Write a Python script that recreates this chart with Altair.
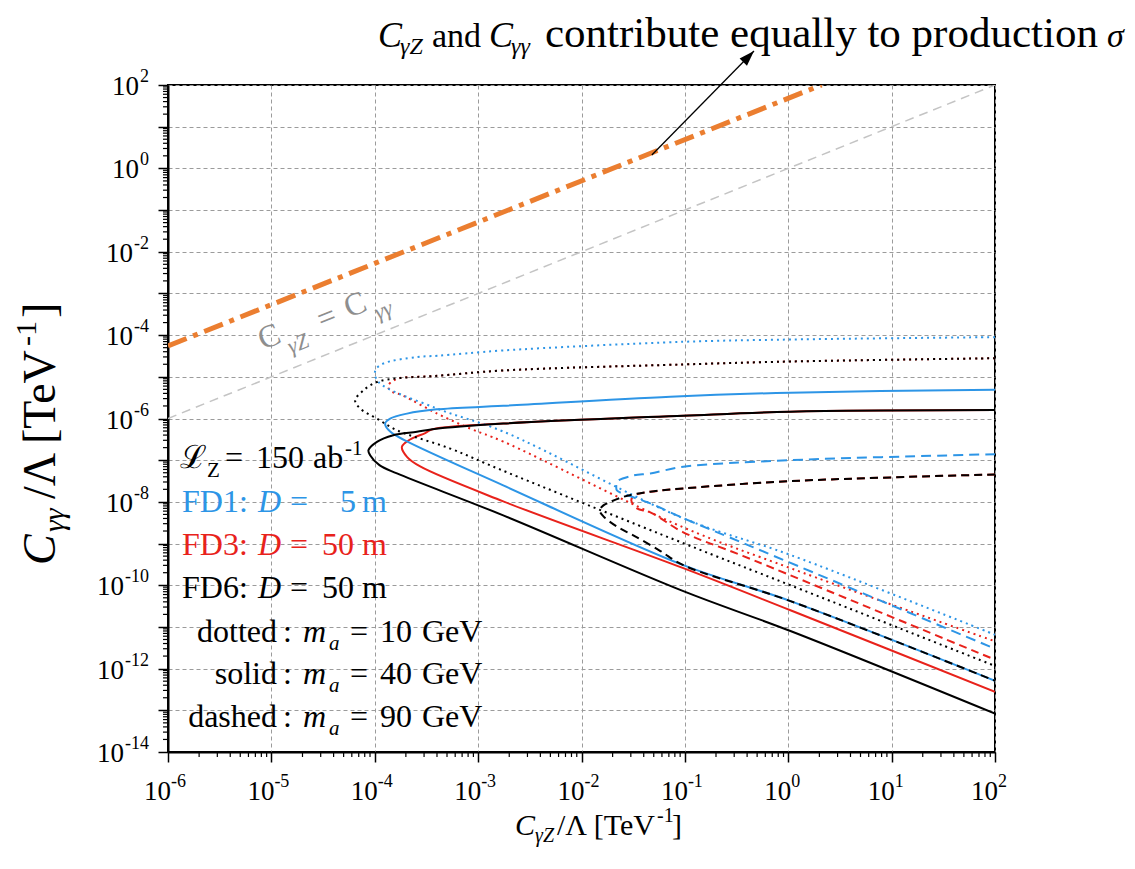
import altair as alt
import pandas as pd

W, H = 827, 667          # plot area
OX, OY = 168, 85         # plot origin on the page
FONT = "Liberation Serif"
BLUE, RED, BLACK, ORANGE, GRAY = "#2D95E6", "#E8221B", "#000000", "#EB7E30", "#C4C4C4"

XDOM = [1e-6, 1e2]
YDOM = [1e-14, 1e2]
X_EXP = [-6, -5, -4, -3, -2, -1, 0, 1, 2]
Y_EXP = list(range(-14, 3))

# ---------------- data ----------------
# FD6 (black)
fd6_solid_x = [100, 1.05, 0.0966, 1.75e-3, 3.62e-4, 2.56e-4, 1.51e-4, 1.05e-4, 8.69e-5, 9.02e-5, 1.11e-4, 1.64e-4, 1.75e-3, 0.0966, 1.05, 100]
fd6_solid_y = [1.59e-6, 1.46e-6, 1.17e-6, 7.55e-7, 5.52e-7, 4.79e-7, 3.96e-7, 2.75e-7, 1.73e-7, 1.32e-7, 7.59e-8, 4.81e-8, 4.75e-9, 7.23e-11, 7.98e-12, 8.32e-14]
fd6_dot_x = [100, 1.05, 0.0966, 1.75e-3, 3.67e-4, 1.76e-4, 1.05e-4, 7.78e-5, 6.46e-5, 7.23e-5, 1.05e-4, 1.64e-4, 5.37e-4, 1.62e-3, 0.0966, 1.05, 100]
fd6_dot_y = [2.79e-5, 2.33e-5, 1.98e-5, 1.42e-5, 1.04e-5, 9.35e-6, 7.52e-6, 4.73e-6, 2.72e-6, 1.73e-6, 9.95e-7, 5.22e-7, 1.9e-7, 6.03e-8, 1.02e-9, 1.0e-10, 1.16e-12]
fd6_dash_x = [100, 1.05, 0.0966, 0.0463, 0.0256, 0.0177, 0.0163, 0.015, 0.0164, 0.022, 0.0317, 0.058, 0.0966, 1.05, 100]
fd6_dash_y = [4.55e-8, 3.15e-8, 2.1e-8, 1.75e-8, 1.33e-8, 9.2e-9, 8.24e-9, 6.27e-9, 4.43e-9, 2.55e-9, 1.58e-9, 6.61e-10, 3.03e-10, 4.17e-11, 5.13e-13]
# FD1 (blue)
fd1_solid_x = [100, 1.05, 0.0724, 1.75e-3, 3.99e-4, 2.05e-4, 1.41e-4, 1.26e-4, 1.41e-4, 2.05e-4, 1.75e-3, 0.0966, 1.05, 100]
fd1_solid_y = [4.91e-6, 4.17e-6, 3.34e-6, 2.01e-6, 1.66e-6, 1.31e-6, 9.95e-7, 7.55e-7, 4.86e-7, 2.82e-7, 2.48e-8, 3.03e-10, 4.17e-11, 5.13e-13]
fd1_dot_x = [100, 1.05, 0.0966, 1.75e-3, 4.02e-4, 2.56e-4, 1.2e-4, 1.01e-4, 1.08e-4, 4.02e-4, 1.75e-3, 0.0966, 1.05, 100]
fd1_dot_y = [8.95e-5, 7.85e-5, 6.92e-5, 4.29e-5, 3.2e-5, 2.98e-5, 2.06e-5, 1.4e-5, 7.64e-6, 1.73e-6, 4.86e-7, 4.04e-9, 5.33e-10, 6.5e-12]
fd1_dash_x = [100, 1.05, 0.0966, 0.0463, 0.0317, 0.022, 0.0217, 0.022, 0.0275, 0.0463, 0.0966, 0.43, 100]
fd1_dash_y = [1.39e-7, 1.0e-7, 6.95e-8, 4.81e-8, 4.31e-8, 3.04e-8, 2.35e-8, 1.88e-8, 1.46e-8, 9.2e-9, 4.07e-9, 8.71e-10, 3.0e-12]
# FD3 (red)
fd3_solid_x = [100, 1.05, 0.0966, 1.75e-3, 3.62e-4, 3.08e-4, 2.2e-4, 1.83e-4, 2.05e-4, 2.75e-4, 1.75e-3, 0.0966, 1.05, 100]
fd3_solid_y = [1.59e-6, 1.46e-6, 1.17e-6, 7.55e-7, 5.52e-7, 4.48e-7, 3.13e-7, 2.09e-7, 1.2e-7, 7.06e-8, 1.03e-8, 2.57e-10, 2.51e-11, 2.77e-13]
fd3_dot_x = [100, 1.05, 0.0966, 1.75e-3, 3.67e-4, 1.76e-4, 1.51e-4, 1.35e-4, 1.41e-4, 1.88e-4, 4.02e-4, 8.38e-4, 1.75e-3, 0.0966, 1.05, 100]
fd3_dot_y = [2.79e-5, 2.33e-5, 1.98e-5, 1.42e-5, 1.04e-5, 9.35e-6, 8.07e-6, 6.12e-6, 4.65e-6, 3.53e-6, 1.31e-6, 5.73e-7, 2.8e-7, 2.45e-9, 2.57e-10, 4.52e-12]
fd3_dash_x = [100, 1.05, 0.0966, 0.0463, 0.0371, 0.0324, 0.0303, 0.0344, 0.0463, 0.0966, 0.368, 100]
fd3_dash_y = [4.55e-8, 3.15e-8, 2.1e-8, 1.75e-8, 1.6e-8, 1.43e-8, 1.09e-8, 7.0e-9, 5.62e-9, 1.86e-9, 5.01e-10, 1.64e-12]
# reference lines
equal_x = [1e-6, 1e2]          # C_gZ = C_gg
equal_y = [1e-6, 1e2]
sigma_x = [1e-6, 2.1]          # equal contribution to production
sigma_y = [5.5e-5, 100]
arrow_x = [0.0479, 0.466]
arrow_y = [2.1, 653]

# ---------------- scales / axes ----------------
xs = alt.Scale(type="log", domain=XDOM, nice=False)
ys = alt.Scale(type="log", domain=YDOM, nice=False)
common_axis = dict(labels=False, title=None, tickSize=10, tickWidth=1.5, tickColor="black",
                   domainColor="black", domainWidth=2, grid=True, gridColor="#9b9b9b",
                   gridDash=[4, 3], gridWidth=1)
xaxis = alt.Axis(values=[10.0 ** e for e in X_EXP], **common_axis)
yaxis = alt.Axis(values=[10.0 ** e for e in Y_EXP], **common_axis)


def X(field):
    return alt.X(field, scale=xs, axis=xaxis)


def Y(field):
    return alt.Y(field, scale=ys, axis=yaxis)


def curve(xv, yv, color, dash=None, width=2.0, interp="catmull-rom", clip=True):
    df = pd.DataFrame({"x": xv, "y": yv, "o": list(range(len(xv)))})
    kw = dict(color=color, strokeWidth=width, clip=clip, interpolate=interp)
    if dash:
        kw["strokeDash"] = dash
    return alt.Chart(df).mark_line(**kw).encode(x=X("x:Q"), y=Y("y:Q"), order="o:Q")


def txt(s, x, y, size, color="black", italic=False, angle=0, align="left", font=FONT):
    kw = dict(align=align, baseline="alphabetic", font=font, fontSize=size, color=color)
    if italic:
        kw["fontStyle"] = "italic"
    if angle:
        kw["angle"] = angle
    return alt.Chart(pd.DataFrame({"t": [s]})).mark_text(**kw).encode(
        x=alt.value(x - OX), y=alt.value(y - OY), text="t:N")


DOT, DASH = [2, 4], [8, 5]
layers = []
layers.append(curve(equal_x, equal_y, GRAY, [9, 6], 1.5, "linear"))
layers.append(curve(sigma_x, sigma_y, ORANGE, [20, 7, 5, 7], 5, "linear"))
# red, blue, black (black on top)
layers += [curve(fd3_dot_x, fd3_dot_y, RED, DOT), curve(fd3_solid_x, fd3_solid_y, RED),
           curve(fd3_dash_x, fd3_dash_y, RED, DASH)]
layers += [curve(fd1_dot_x, fd1_dot_y, BLUE, DOT), curve(fd1_solid_x, fd1_solid_y, BLUE),
           curve(fd1_dash_x, fd1_dash_y, BLUE, [10, 6])]
layers += [curve(fd6_dot_x, fd6_dot_y, BLACK, DOT), curve(fd6_solid_x, fd6_solid_y, BLACK),
           curve(fd6_dash_x, fd6_dash_y, BLACK, DASH)]

# arrow
layers.append(curve(arrow_x, arrow_y, BLACK, None, 1.3, "linear", clip=False))
layers.append(alt.Chart(pd.DataFrame({"x": [arrow_x[1]], "y": [arrow_y[1]]})).mark_point(
    shape="M0,0L-0.5,1.5L0.5,1.5Z", filled=True, color="black", opacity=1, size=420, angle=44
).encode(x=X("x:Q"), y=Y("y:Q")))

# minor ticks
xminor = [m * 10.0 ** d for d in range(-6, 2) for m in range(2, 10)]
yminor = [m * 10.0 ** d for d in range(-14, 2) for m in range(2, 10)]
layers.append(alt.Chart(pd.DataFrame({"v": xminor})).mark_rule(color="black", strokeWidth=1.2).encode(
    x=X("v:Q"), y=alt.value(H), y2=alt.value(H + 5)))
layers.append(alt.Chart(pd.DataFrame({"v": yminor})).mark_rule(color="black", strokeWidth=1.2).encode(
    y=Y("v:Q"), x=alt.value(0), x2=alt.value(-5)))

# tick labels: "10" + raised exponent
LS, ES = 27, 18
xlab = pd.DataFrame({"v": [10.0 ** e for e in X_EXP], "e": [str(e) for e in X_EXP]})
layers.append(alt.Chart(xlab).mark_text(align="right", baseline="middle", dx=3, font=FONT, fontSize=LS).encode(
    x=X("v:Q"), y=alt.value(H + 40), text=alt.value("10")))
layers.append(alt.Chart(xlab).mark_text(align="left", baseline="middle", dx=3, font=FONT, fontSize=ES).encode(
    x=X("v:Q"), y=alt.value(H + 30), text="e:N"))
ylab_e = [e for e in Y_EXP if e % 2 == 0]
ylab = pd.DataFrame({"v": [10.0 ** e for e in ylab_e], "e": [str(e) for e in ylab_e],
                     "n": [len(str(e)) for e in ylab_e]})
layers.append(alt.Chart(ylab).mark_text(align="right", baseline="middle", dy=-8, font=FONT, fontSize=ES).encode(
    y=Y("v:Q"), x=alt.value(-19), text="e:N"))
for n, off in [(1, 10), (2, 16), (3, 25)]:
    layers.append(alt.Chart(ylab[ylab["n"] == n]).mark_text(align="right", baseline="middle", dy=2, font=FONT,
                                                             fontSize=LS).encode(
        y=Y("v:Q"), x=alt.value(-19 - off), text=alt.value("10")))

# axis titles
layers += [txt("C", 515, 835, 30, italic=True), txt("γZ", 535, 842, 20, italic=True),
           txt("/Λ [TeV", 557, 835, 30), txt("-1", 657, 822, 20), txt("]", 672, 835, 30)]
layers += [txt("C", 55, 565, 46, italic=True, angle=270), txt("γγ", 64, 532, 30, italic=True, angle=270),
           txt("/Λ", 55, 499, 46, angle=270), txt("[TeV", 55, 444, 46, angle=270),
           txt("-1", 36, 346, 30, angle=270), txt("]", 55, 318, 46, angle=270)]

# top annotation
TB = 47
layers += [txt("C", 378, TB, 36, italic=True), txt("γZ", 400, TB + 7, 24, italic=True),
           txt("and", 432, TB, 34), txt("C", 489, TB, 36, italic=True), txt("γγ", 511, TB + 7, 24, italic=True),
           txt("contribute equally to production", 545, TB, 43), txt("σ", 1107, TB, 34, italic=True)]

# gray label on the diagonal
GL = "#8e8e8e"
layers += [txt("C", 263, 350, 32, GL, angle=338), txt("γZ", 291, 354, 22, GL, italic=True, angle=338),
           txt("=", 322, 330, 32, GL, angle=338), txt("C", 349, 318, 32, GL, angle=338),
           txt("γγ", 378, 320, 22, GL, italic=True, angle=338)]

# legend text
S = 32
layers += [txt("ℒ", 180, 468, S), txt("Z", 207, 477, 21), txt("=", 225, 468, S), txt("150", 256, 468, S),
           txt("ab", 313, 468, S), txt("-1", 345, 455, 21)]
for lab, num, nx, col, base in [("FD1:", "5", 340, BLUE, 512), ("FD3:", "50", 322, RED, 555),
                                 ("FD6:", "50", 322, BLACK, 598)]:
    layers += [txt(lab, 182, base, S, col), txt("D", 258, base, S, col, italic=True),
               txt("=", 290, base, S, col), txt(num, nx, base, S, col), txt("m", 362, base, S, col)]
for lab, mass, base in [("dotted", "10", 642), ("solid", "40", 684), ("dashed", "90", 727)]:
    layers += [txt(lab, 277, base, S, align="right"), txt(":", 283, base, S),
               txt("m", 303, base, S, italic=True), txt("a", 329, base + 8, 21, italic=True),
               txt("=", 350, base, S), txt(mass, 380, base, S), txt("GeV", 422, base, S)]

chart = alt.layer(*layers).properties(
    width=W, height=H,
    padding={"left": OX - 8, "top": OY - 8, "right": 132, "bottom": 100},
    autosize=alt.AutoSizeParams(type="none"),
).configure_view(stroke="black", strokeWidth=2)

chart.save("out.html", embed_options={"renderer": "svg", "actions": False})
